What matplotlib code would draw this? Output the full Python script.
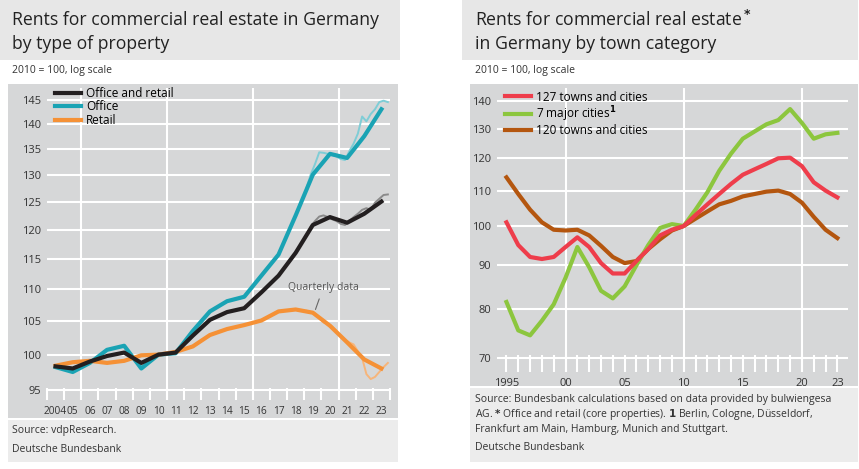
import matplotlib
matplotlib.use("Agg")
import matplotlib.pyplot as plt
import numpy as np
from matplotlib.patches import Rectangle
from matplotlib.ticker import FixedLocator, NullLocator

plt.rcParams['font.family'] = ['Open Sans', 'DejaVu Sans']

years_l = list(range(2004, 2024))
office_retail = [98.3, 98.0, 99.0, 99.8, 100.3, 98.8, 100, 100.3, 102.8, 105.2, 106.4, 107.0, 109.5, 112.2, 116.0, 120.8, 122.2, 121.2, 122.8, 125.0]
office = [98.2, 97.5, 98.8, 100.7, 101.3, 98.0, 100, 100.2, 103.5, 106.5, 108.1, 108.8, 112.2, 115.7, 122.5, 130.0, 134.0, 133.2, 137.5, 143.0]
retail = [98.4, 98.9, 99.1, 98.8, 99.1, 99.9, 100, 100.4, 101.2, 102.9, 103.8, 104.4, 105.1, 106.5, 106.8, 106.3, 104.3, 101.8, 99.3, 98.0]
quarters = [y + (q - 0.5) / 4 for y in range(2019, 2024) for q in range(1, 5)]
office_q = [127.5, 130, 132, 134.3, 134.2, 134.0, 133.8, 133.5, 133.0, 132.8, 134.5, 136, 138, 141.5, 140.5, 142, 143, 144.5, 144.8, 144.5]
office_retail_q = [119, 120.5, 121.5, 122.3, 122.5, 122.2, 121.8, 121.5, 121, 120.8, 121.5, 122.2, 122.8, 123.5, 123.8, 123.5, 124.8, 125.5, 126.2, 126.3]
retail_q = [106.6, 106.4, 106.2, 105.5, 104.8, 104.6, 104.2, 103.5, 102.8, 102.2, 101.8, 101.5, 100.5, 99.5, 97.2, 96.5, 96.8, 97.5, 98.2, 98.8]
xlabels_l = ["2004"] + ["%02d" % (y % 100) for y in range(2005, 2024)]
yticks_l = [95, 100, 105, 110, 115, 120, 125, 130, 135, 140, 145]

years_r = list(range(1995, 2024))
towns127 = [101, 95, 92, 91.5, 92, 94.5, 97, 94.5, 90.5, 88, 88, 91, 94, 97.5, 99, 100, 103, 106, 109, 112, 114.8, 116.5, 118.2, 120, 120.2, 117.5, 112.5, 110, 108]
major7 = [81.5, 75.5, 74.5, 77.5, 81, 87, 94.5, 89.5, 84, 82.3, 85, 90, 95, 99.5, 100.5, 100, 104.5, 109.5, 116, 121.5, 126.5, 129, 131.5, 133, 137, 132, 126.5, 128, 128.5]
towns120 = [114, 109, 104.5, 101, 99, 98.8, 99, 97.5, 94.8, 92, 90.5, 91, 94, 96.5, 98.8, 100, 102, 104, 106, 107, 108.3, 109, 109.7, 110, 109, 106.5, 102.5, 99, 96.8]
yticks_r = [70, 80, 90, 100, 110, 120, 130, 140]
xlabel_r = {1995: "1995", 2000: "00", 2005: "05", 2010: "10", 2015: "15", 2020: "20", 2023: "23"}

W, H = 859, 469
fig = plt.figure(figsize=(W / 100, H / 100), dpi=100)
fig.patch.set_facecolor("white")
GRAY = "#d6d7d8"
HEAD = "#e7e7e7"
SRC = "#ececec"
TXT = "#333333"

def rect(x0, y0, x1, y1, c):
    fig.patches.append(Rectangle((x0 / W, 1 - y1 / H), (x1 - x0) / W, (y1 - y0) / H,
                                 transform=fig.transFigure, facecolor=c, edgecolor="none", zorder=-10))

rect(0, 0, 400, 60, HEAD)
rect(8, 84, 398, 418, GRAY)
rect(8, 420, 398, 462, SRC)
rect(462, 0, 858, 60, HEAD)
rect(470, 84, 858, 386, GRAY)
rect(470, 388, 858, 462, SRC)

fig.text(12 / W, 1 - 20 / H, "Rents for commercial real estate in Germany", fontsize=12.7, color="#222", va="center")
fig.text(12 / W, 1 - 44 / H, "by type of property", fontsize=12.7, color="#222", va="center")
fig.text(12 / W, 1 - 71 / H, "2010 = 100, log scale", fontsize=7.5, color=TXT, va="center")
fig.text(12 / W, 1 - 430 / H, "Source: vdpResearch.", fontsize=7.5, color=TXT, va="center")
fig.text(12 / W, 1 - 449 / H, "Deutsche Bundesbank", fontsize=7.5, color=TXT, va="center")

fig.text(475 / W, 1 - 20 / H, "Rents for commercial real estate$^{\\bf *}$", fontsize=12.7, color="#222", va="center")
fig.text(475 / W, 1 - 44 / H, "in Germany by town category", fontsize=12.7, color="#222", va="center")
fig.text(475 / W, 1 - 71 / H, "2010 = 100, log scale", fontsize=7.5, color=TXT, va="center")
fig.text(475 / W, 1 - 399 / H, "Source: Bundesbank calculations based on data provided by bulwiengesa", fontsize=7.5, color=TXT, va="center")
fig.text(475 / W, 1 - 414 / H, "AG. $\\bf{*}$ Office and retail (core properties). $\\bf{1}$ Berlin, Cologne, Düsseldorf,", fontsize=7.5, color=TXT, va="center")
fig.text(475 / W, 1 - 429 / H, "Frankfurt am Main, Hamburg, Munich and Stuttgart.", fontsize=7.5, color=TXT, va="center")
fig.text(475 / W, 1 - 447 / H, "Deutsche Bundesbank", fontsize=7.5, color=TXT, va="center")

def mkax(x0, y0, x1, y1):
    ax = fig.add_axes([x0 / W, 1 - y1 / H, (x1 - x0) / W, (y1 - y0) / H])
    ax.set_facecolor("none")
    for s in ax.spines.values():
        s.set_visible(False)
    return ax

axl = mkax(47, 88, 390, 400)
axl.set_yscale("log")
axl.set_ylim(93.6, 147.5)
axl.set_xlim(2004, 2024)
axl.yaxis.set_major_locator(FixedLocator(yticks_l))
axl.yaxis.set_minor_locator(NullLocator())
axl.set_yticklabels([str(v) for v in yticks_l], fontsize=8, color=TXT)
axl.tick_params(axis="y", length=0, pad=4)
for v in yticks_l:
    axl.axhline(v, color="white", lw=1.5, zorder=1)
for v in [2006, 2011, 2016, 2021]:
    axl.axvline(v, color="white", lw=1.5, zorder=1)
axl.set_xticks(range(2004, 2025))
axl.set_xticklabels([])
axl.tick_params(axis="x", which="major", direction="in", length=9, width=1.5, color="white")
axl.set_xticks([y + 0.5 for y in years_l], minor=True)
axl.set_xticklabels(xlabels_l, minor=True, fontsize=7.3, color=TXT)
axl.tick_params(axis="x", which="minor", length=0, pad=4)
xm = [y + 0.5 for y in years_l]
axl.plot(quarters, office_q, color="#7fcdd6", lw=1.4, zorder=2)
axl.plot(quarters, office_retail_q, color="#8a8a8a", lw=1.4, zorder=2)
axl.plot(quarters, retail_q, color="#f7b57a", lw=1.4, zorder=2)
axl.plot(xm, office, color="#1aa3b4", lw=3, zorder=3, label="Office")
axl.plot(xm, office_retail, color="#231f20", lw=3, zorder=4, label="Office and retail")
axl.plot(xm, retail, color="#f59136", lw=3, zorder=3, label="Retail")
h, l = axl.get_legend_handles_labels()
order = [1, 0, 2]
axl.legend([h[i] for i in order], [l[i] for i in order], loc="upper left", bbox_to_anchor=(0.0, 1.03),
           frameon=False, fontsize=8.5, handlelength=2.2, labelspacing=0.05, borderaxespad=0.3, handletextpad=0.4)
axl.annotate("Quarterly data", xy=(2019.6, 106.4), xytext=(2020.1, 110.2), fontsize=7.5, color="#555",
             ha="center", va="center", arrowprops=dict(arrowstyle="-", color="#666", lw=0.8), zorder=5)

axr = mkax(497, 88, 848, 372)
axr.set_yscale("log")
axr.set_ylim(67.5, 145)
axr.set_xlim(1994.2, 2023.9)
axr.yaxis.set_major_locator(FixedLocator(yticks_r))
axr.yaxis.set_minor_locator(NullLocator())
axr.set_yticklabels([str(v) for v in yticks_r], fontsize=8, color=TXT)
axr.tick_params(axis="y", length=0, pad=4)
for v in yticks_r:
    axr.axhline(v, color="white", lw=1.5, zorder=1)
for v in [2000, 2010, 2020]:
    axr.axvline(v, color="white", lw=1.5, zorder=1)
axr.set_xticks(years_r)
axr.set_xticklabels([xlabel_r.get(y, "") for y in years_r], fontsize=8, color=TXT)
axr.tick_params(axis="x", direction="in", length=12, width=1.5, color="white", pad=4)
axr.plot(years_r, towns120, color="#b4560f", lw=3, zorder=3, label="120 towns and cities")
axr.plot(years_r, major7, color="#8cc63e", lw=3, zorder=3, label="7 major cities$^{\\bf 1}$")
axr.plot(years_r, towns127, color="#ee3d4b", lw=3, zorder=4, label="127 towns and cities")
h, l = axr.get_legend_handles_labels()
order = [2, 1, 0]
axr.legend([h[i] for i in order], [l[i] for i in order], loc="upper left", bbox_to_anchor=(0.0, 1.02),
           frameon=False, fontsize=8.5, handlelength=2.2, labelspacing=0.05, borderaxespad=0.3, handletextpad=0.4)

fig.savefig("out.png", dpi=100, facecolor="white")
